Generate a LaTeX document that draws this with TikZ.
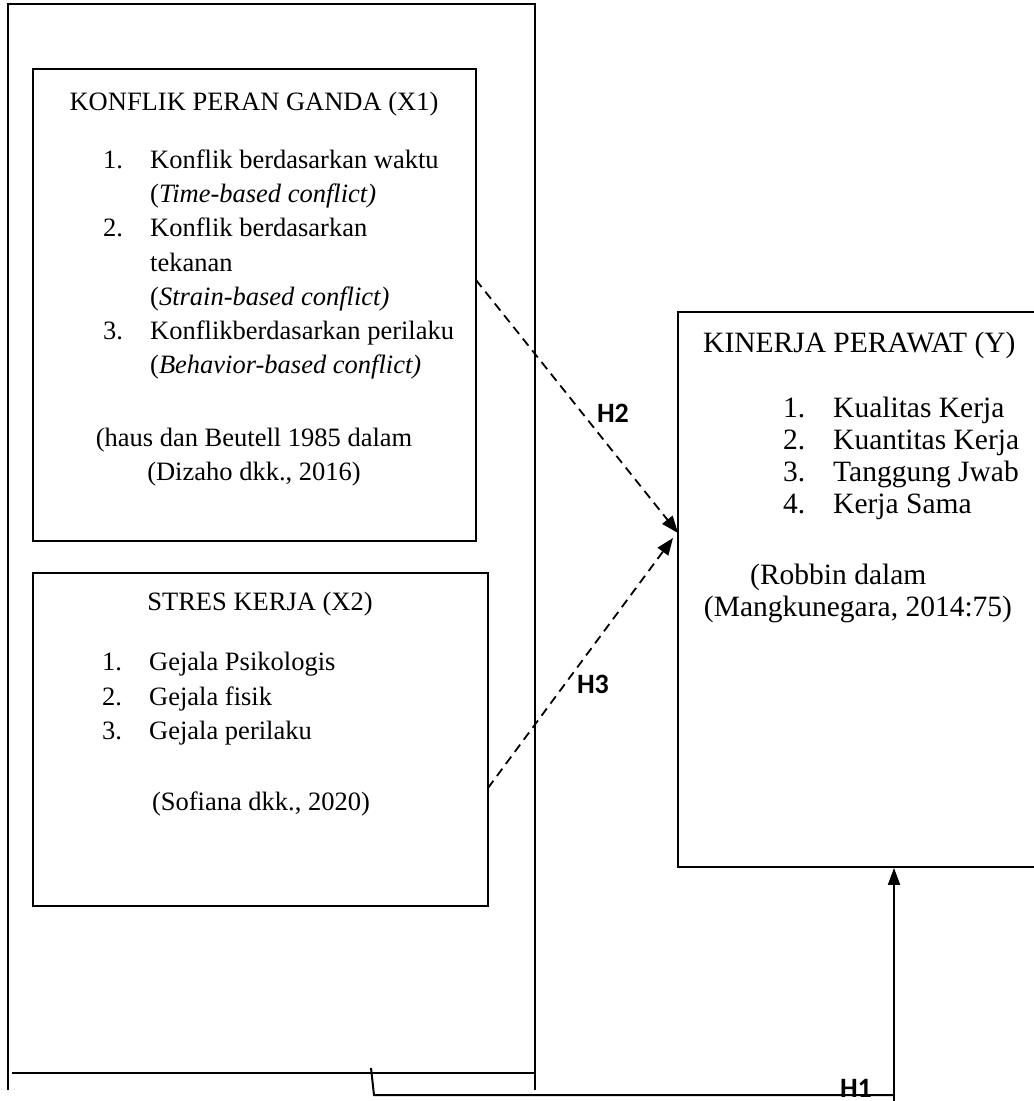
\documentclass[tikz,border=0pt]{standalone}
\usepackage{fontspec}
\setmainfont{Liberation Serif}
\newfontfamily\hypfont{Carlito}
\usetikzlibrary{arrows.meta,fit}

\tikzset{
    box/.style={draw=black, line width=1.8pt, inner sep=0pt},
    lefttext/.style={inner sep=0pt, font=\fontsize{26.5}{34}\selectfont},
    righttext/.style={inner sep=0pt, font=\fontsize{29.5}{33}\selectfont},
    hyplabel/.style={inner sep=0pt, font=\hypfont\bfseries\fontsize{28}{30}\selectfont},
    link/.style={draw=black, line width=1.8pt},
    dashlink/.style={link, dash pattern=on 9pt off 6pt, -{Triangle[length=17pt,width=13pt]}},
    uplink/.style={link, -{Triangle[length=17pt,width=12pt]}}
}

\begin{document}
\begin{tikzpicture}[x=1pt,y=-1pt]
        \useasboundingbox (0,0) rectangle (1034,1101);
        \clip (0,0) rectangle (1034,1101);
        \fill[white] (0,0) rectangle (1034,1101);

        \draw[link] (8,1090) -- (8,4) -- (535,4) -- (535,1090);
        \draw[link, line width=2.6pt] (12,1073) -- (535,1073);

        \node[box, fit={(33,69) (476,541)}] (x1) {};
        \node[box, fit={(33,573) (488,906)}] (x2) {};
        \node[box, fit={(678,312) (1080,867)}] (y) {};

        \node[lefttext, anchor=base] (x1title) at (254,110) {KONFLIK PERAN GANDA (X1)};
        \node[lefttext, anchor=base west] (x1n1) at (103,168) {1.};
        \node[lefttext, anchor=base west] (x1i1) at (150,168) {Konflik berdasarkan waktu};
        \node[lefttext, anchor=base west] (x1i1b) at (150,202) {(\textit{Time-based conflict)}};
        \node[lefttext, anchor=base west] (x1n2) at (103,236) {2.};
        \node[lefttext, anchor=base west] (x1i2) at (150,236) {Konflik berdasarkan};
        \node[lefttext, anchor=base west] (x1i2b) at (150,271) {tekanan};
        \node[lefttext, anchor=base west] (x1i2c) at (150,305) {(\textit{Strain-based conflict)}};
        \node[lefttext, anchor=base west] (x1n3) at (103,339) {3.};
        \node[lefttext, anchor=base west] (x1i3) at (150,339) {Konflikberdasarkan perilaku};
        \node[lefttext, anchor=base west] (x1i3b) at (150,373) {(\textit{Behavior-based conflict)}};
        \node[lefttext, anchor=base] (x1src) at (254,446) {(haus dan Beutell 1985 dalam};
        \node[lefttext, anchor=base] (x1srcb) at (254,480) {(Dizaho dkk., 2016)};

        \node[lefttext, anchor=base] (x2title) at (260,610) {STRES KERJA (X2)};
        \node[lefttext, anchor=base west] (x2n1) at (102,670) {1.};
        \node[lefttext, anchor=base west] (x2i1) at (149,670) {Gejala Psikologis};
        \node[lefttext, anchor=base west] (x2n2) at (102,705) {2.};
        \node[lefttext, anchor=base west] (x2i2) at (149,705) {Gejala fisik};
        \node[lefttext, anchor=base west] (x2n3) at (102,739) {3.};
        \node[lefttext, anchor=base west] (x2i3) at (149,739) {Gejala perilaku};
        \node[lefttext, anchor=base] (x2src) at (261,810) {(Sofiana dkk., 2020)};

        \node[righttext, anchor=base west] (ytitle) at (703,352) {KINERJA PERAWAT (Y)};
        \node[righttext, anchor=base west] (yn1) at (783,417) {1.};
        \node[righttext, anchor=base west] (yi1) at (833,417) {Kualitas Kerja};
        \node[righttext, anchor=base west] (yn2) at (783,449) {2.};
        \node[righttext, anchor=base west] (yi2) at (833,449) {Kuantitas Kerja};
        \node[righttext, anchor=base west] (yn3) at (783,481) {3.};
        \node[righttext, anchor=base west] (yi3) at (833,481) {Tanggung Jwab};
        \node[righttext, anchor=base west] (yn4) at (783,513) {4.};
        \node[righttext, anchor=base west] (yi4) at (833,513) {Kerja Sama};
        \node[righttext, anchor=base west] (ysrc) at (750,584) {(Robbin dalam};
        \node[righttext, anchor=base] (ysrcb) at (858,616) {(Mangkunegara, 2014:75)};

        \coordinate (h2from) at (476,280);
        \coordinate (h2to) at (678,533);
        \coordinate (h3from) at (488,788);
        \coordinate (h3to) at (673,538);
        \draw[dashlink] (h2from) -- (h2to);
        \draw[dashlink] (h3from) -- (h3to);
        \node[hyplabel] (h2) at (613,413) {H2};
        \node[hyplabel] (h3) at (593,684) {H3};

        \coordinate (h1a) at (371,1068);
        \coordinate (h1b) at (374,1095);
        \coordinate (h1c) at (894,1095);
        \coordinate (h1d) at (894,1101);
        \draw[link, line width=2pt] (h1a) -- (h1b) -- (h1c);
        \draw[uplink] (h1d) -- (y.south -| h1d);
        \node[hyplabel, anchor=base] (h1) at (856,1097) {H1};
    \end{tikzpicture}
\end{document}
